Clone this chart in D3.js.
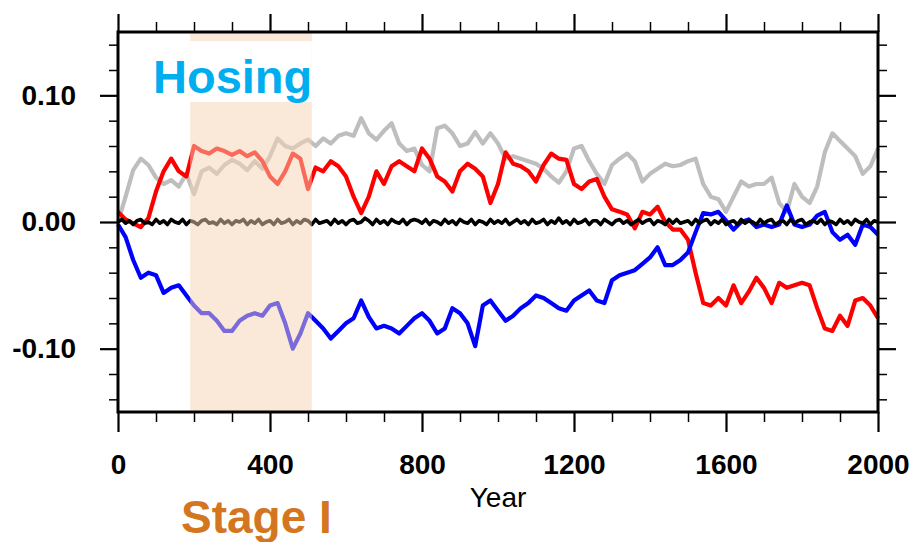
<!DOCTYPE html>
<html>
<head>
<meta charset="utf-8">
<script src="https://cdn.jsdelivr.net/npm/d3@7"></script>
<style>
  html, body { margin: 0; padding: 0; background: #fff; }
  svg { display: block; font-family: "Liberation Sans", Arial, Helvetica, sans-serif; }
</style>
</head>
<body>
<svg id="chart" width="915" height="542"></svg>
<script>
// ---- data ----
const years = d3.range(0, 2001, 20);
const blackYears = d3.range(0, 2001, 10);
const grayVals = [0.000,0.020,0.041,0.050,0.045,0.035,0.030,0.033,0.028,0.038,
  0.022,0.040,0.043,0.038,0.045,0.049,0.046,0.041,0.048,0.042,
  0.052,0.066,0.060,0.058,0.062,0.065,0.060,0.066,0.062,0.068,
  0.070,0.068,0.082,0.070,0.065,0.072,0.078,0.062,0.056,0.058,
  0.045,0.040,0.074,0.076,0.070,0.060,0.062,0.071,0.062,0.070,
  0.062,0.050,0.052,0.050,0.048,0.046,0.042,0.036,0.031,0.040,
  0.058,0.060,0.048,0.038,0.030,0.045,0.050,0.054,0.048,0.032,
  0.038,0.042,0.046,0.044,0.045,0.048,0.050,0.030,0.020,0.018,
  0.008,0.020,0.032,0.028,0.030,0.030,0.035,0.015,0.008,0.030,
  0.020,0.015,0.028,0.055,0.070,0.064,0.058,0.052,0.038,0.044,
  0.058];
const redVals = [0.008,0.002,-0.001,-0.004,0.003,0.024,0.040,0.050,0.040,0.036,
  0.060,0.056,0.054,0.058,0.056,0.053,0.056,0.052,0.055,0.048,
  0.036,0.030,0.040,0.054,0.050,0.026,0.043,0.040,0.048,0.044,
  0.036,0.020,0.007,0.020,0.040,0.030,0.044,0.048,0.044,0.040,
  0.058,0.050,0.036,0.032,0.024,0.040,0.046,0.042,0.036,0.015,
  0.030,0.055,0.046,0.044,0.040,0.032,0.045,0.054,0.050,0.049,
  0.030,0.026,0.032,0.034,0.020,0.010,0.008,0.006,-0.005,0.008,
  0.006,0.012,0.000,-0.006,-0.006,-0.014,-0.040,-0.064,-0.066,-0.060,
  -0.066,-0.050,-0.064,-0.055,-0.044,-0.052,-0.064,-0.048,-0.052,-0.050,
  -0.048,-0.050,-0.068,-0.084,-0.086,-0.074,-0.082,-0.062,-0.060,-0.066,
  -0.076];
const blueVals = [-0.002,-0.012,-0.030,-0.044,-0.040,-0.042,-0.056,-0.052,-0.050,-0.058,
  -0.066,-0.072,-0.072,-0.078,-0.086,-0.086,-0.078,-0.074,-0.072,-0.074,
  -0.066,-0.064,-0.080,-0.100,-0.088,-0.072,-0.078,-0.084,-0.092,-0.086,
  -0.080,-0.076,-0.062,-0.075,-0.084,-0.082,-0.084,-0.088,-0.082,-0.076,
  -0.072,-0.078,-0.088,-0.084,-0.068,-0.072,-0.080,-0.098,-0.066,-0.062,
  -0.070,-0.078,-0.074,-0.068,-0.064,-0.058,-0.060,-0.064,-0.068,-0.070,
  -0.062,-0.058,-0.054,-0.062,-0.064,-0.046,-0.042,-0.040,-0.038,-0.033,
  -0.028,-0.020,-0.034,-0.034,-0.030,-0.024,-0.008,0.007,0.006,0.008,
  0.001,-0.006,0.000,0.002,-0.004,-0.002,-0.004,-0.002,0.013,-0.002,
  -0.004,-0.002,0.005,0.008,-0.008,-0.014,-0.010,-0.018,-0.002,-0.004,
  -0.010];
const blackVals = [0.000,0.002,-0.001,0.001,-0.002,0.001,0.002,-0.001,0.000,-0.002,
  0.002,-0.001,0.001,-0.002,0.002,0.000,-0.001,0.002,-0.002,0.001,
  0.000,-0.002,0.001,0.002,-0.001,0.000,-0.002,0.002,-0.001,0.001,
  -0.002,0.001,0.000,0.002,-0.002,0.001,-0.001,0.002,-0.002,0.000,
  0.001,-0.002,0.002,-0.001,0.000,0.002,-0.002,0.001,-0.001,0.002,
  0.001,-0.002,0.002,-0.001,0.000,0.001,-0.002,0.002,-0.001,0.001,
  -0.002,0.001,0.002,-0.001,0.000,0.003,0.001,-0.002,0.002,-0.001,
  0.001,-0.002,0.002,0.000,-0.001,0.002,-0.002,0.001,0.002,0.001,
  -0.001,0.002,-0.002,0.001,0.000,-0.002,0.002,-0.001,0.001,-0.002,
  0.002,0.000,-0.001,0.002,-0.002,0.001,0.000,-0.002,0.002,-0.001,
  0.001,-0.001,0.002,-0.002,0.000,0.002,-0.001,0.001,-0.002,0.002,
  -0.001,0.000,0.002,-0.002,0.001,-0.001,0.003,-0.001,0.001,-0.002,
  0.002,-0.001,0.000,0.002,-0.002,0.001,0.001,-0.002,0.002,0.000,
  -0.002,0.001,0.002,-0.001,0.001,-0.002,0.000,0.002,-0.001,0.001,
  0.002,-0.002,0.001,0.000,-0.002,0.002,-0.001,0.002,-0.001,0.000,
  0.001,-0.002,0.002,-0.001,0.001,0.002,-0.002,0.001,-0.001,0.002,
  -0.002,0.000,0.001,-0.002,0.002,-0.001,0.001,0.000,-0.002,0.002,
  -0.001,0.001,0.002,-0.002,0.000,0.001,-0.002,0.002,-0.001,0.001,
  0.002,-0.002,0.000,0.001,-0.001,0.002,-0.002,0.001,0.000,-0.002,
  0.002,-0.001,0.001,-0.002,0.002,0.000,-0.001,0.002,-0.002,0.001,
  0.000];
const xMajor = [0, 400, 800, 1200, 1600, 2000];
const xMinor = d3.range(0, 2001, 100).filter(v => v % 400 !== 0);
const yMajor = [-0.10, 0.00, 0.10];
const yMinor = [-0.14,-0.12,-0.08,-0.06,-0.04,-0.02,0.02,0.04,0.06,0.08,0.12,0.14];
const hosingStart = 190, hosingEnd = 510;
const hosingLabel = "Hosing", stageLabel = "Stage I", xTitle = "Year";

// ---- layout ----
const L = 118, R = 878, T = 32, B = 412;
const svg = d3.select("#chart");
const x = d3.scaleLinear().domain([0, 2000]).range([L, R]);
const y = d3.scaleLinear().domain([-0.15, 0.15]).range([B, T]);

const series = [
  {vals: grayVals, yrs: years, color: "#BEBEBE", w: 4.2},
  {vals: redVals, yrs: years, color: "#FF0000", w: 4.2},
  {vals: blueVals, yrs: years, color: "#0000FF", w: 4.2},
  {vals: blackVals, yrs: blackYears, color: "#000000", w: 3.6}
];
const g = svg.append("g");
series.forEach(s => {
  const line = d3.line().x((d, i) => x(s.yrs[i])).y(d => y(d));
  g.append("path").datum(s.vals)
    .attr("d", line)
    .attr("fill", "none")
    .attr("stroke", s.color)
    .attr("stroke-width", s.w)
    .attr("stroke-linejoin", "round");
});

// hosing overlay
svg.append("rect")
  .attr("x", x(hosingStart)).attr("y", T)
  .attr("width", x(hosingEnd) - x(hosingStart)).attr("height", B - T)
  .attr("fill", "rgb(245,212,180)").attr("fill-opacity", 0.5);
svg.append("rect")
  .attr("x", x(hosingStart)).attr("y", 41)
  .attr("width", x(hosingEnd) - x(hosingStart)).attr("height", 61)
  .attr("fill", "#fff");
svg.append("text")
  .attr("x", 153).attr("y", 93)
  .attr("font-size", 47).attr("font-weight", "bold")
  .attr("fill", "#00AEEF")
  .text(hosingLabel);

// axes
const fmt = v => d3.format(".2f")(v).replace("\u2212", "-");
function styleAxis(sel, major) {
  sel.select(".domain").remove();
  sel.selectAll(".tick line").attr("stroke", "#000").attr("stroke-width", major ? 2.2 : 1.5);
}
svg.append("g").attr("transform", `translate(${L},0)`)
  .call(d3.axisLeft(y).tickValues(yMajor).tickSize(18).tickPadding(24).tickFormat(fmt))
  .call(s => styleAxis(s, true))
  .call(s => s.selectAll("text").attr("font-size", 28).attr("font-weight", "bold")
    .attr("font-family", "Liberation Sans, Arial, sans-serif").attr("fill", "#000"));
svg.append("g").attr("transform", `translate(${L},0)`)
  .call(d3.axisLeft(y).tickValues(yMinor).tickSize(9).tickFormat(""))
  .call(s => styleAxis(s, false));
svg.append("g").attr("transform", `translate(${R},0)`)
  .call(d3.axisRight(y).tickValues(yMajor).tickSize(18).tickFormat(""))
  .call(s => styleAxis(s, true));
svg.append("g").attr("transform", `translate(${R},0)`)
  .call(d3.axisRight(y).tickValues(yMinor).tickSize(9).tickFormat(""))
  .call(s => styleAxis(s, false));
svg.append("g").attr("transform", `translate(0,${B})`)
  .call(d3.axisBottom(x).tickValues(xMajor).tickSize(20).tickPadding(22).tickFormat(d3.format("d")))
  .call(s => styleAxis(s, true))
  .call(s => s.selectAll("text").attr("font-size", 28).attr("font-weight", "bold")
    .attr("font-family", "Liberation Sans, Arial, sans-serif").attr("fill", "#000"));
svg.append("g").attr("transform", `translate(0,${B})`)
  .call(d3.axisBottom(x).tickValues(xMinor).tickSize(10).tickFormat(""))
  .call(s => styleAxis(s, false));
svg.append("g").attr("transform", `translate(0,${T})`)
  .call(d3.axisTop(x).tickValues(xMajor).tickSize(18).tickFormat(""))
  .call(s => styleAxis(s, true));
svg.append("g").attr("transform", `translate(0,${T})`)
  .call(d3.axisTop(x).tickValues(xMinor).tickSize(10).tickFormat(""))
  .call(s => styleAxis(s, false));

// frame
svg.append("rect").attr("x", L).attr("y", T).attr("width", R - L).attr("height", B - T)
  .attr("fill", "none").attr("stroke", "#000").attr("stroke-width", 3);

// titles
svg.append("text").attr("x", (L + R) / 2).attr("y", 507)
  .attr("text-anchor", "middle").attr("font-size", 28).attr("fill", "#000")
  .text(xTitle);
svg.append("text").attr("x", 181).attr("y", 533)
  .attr("font-size", 46).attr("font-weight", "bold").attr("fill", "#D4761F")
  .text(stageLabel);
</script>
</body>
</html>
